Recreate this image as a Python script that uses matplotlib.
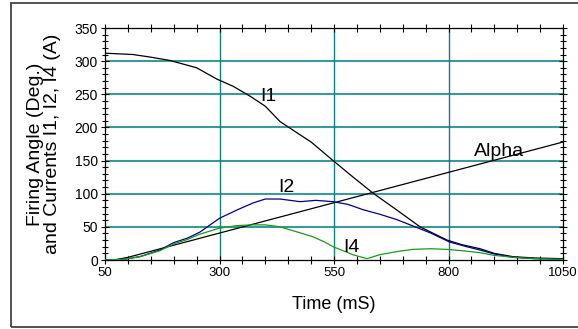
import matplotlib.pyplot as plt
from matplotlib.patches import Rectangle
from matplotlib.ticker import MultipleLocator

plt.rcParams['font.family'] = ['Liberation Sans', 'DejaVu Sans']

# time axis values (mS)
t_i1 = [50, 111, 150, 192, 250, 294, 330, 367, 400, 432, 469, 500, 548, 590, 635,
        690, 738, 797, 830, 869, 900, 941, 990, 1050]
i1 = [312, 310, 306, 301, 290, 273, 262, 247, 232, 209, 192, 178, 150, 126, 101,
      74, 50, 30, 23, 17, 10, 5, 3, 2]

t_alpha = [50, 70, 100, 1050]
alpha = [0, 0, 4, 178]

t_i2 = [50, 90, 126, 170, 199, 230, 257, 300, 340, 373, 400, 432, 476, 510, 548,
        580, 613, 650, 687, 720, 760, 803, 840, 869, 900, 941, 990, 1050]
i2 = [0, 1, 5, 15, 26, 33, 42, 63, 76, 86, 92, 92, 88, 90, 88,
      84, 76, 69, 61, 52, 41, 27, 20, 15, 9, 4, 2, 1]

t_i4 = [50, 90, 126, 170, 199, 230, 257, 300, 340, 373, 400, 432, 476, 504, 530,
        548, 570, 591, 622, 650, 690, 722, 760, 797, 830, 869, 900, 941, 990, 1050]
i4 = [0, 1, 5, 14, 24, 31, 39, 48, 52, 53, 53, 50, 41, 35, 27,
      20, 14, 8, 2, 8, 13, 16, 17, 16, 14, 11, 7, 4, 2, 1]

fig = plt.figure(figsize=(5.78, 3.29), dpi=100)
ax = fig.add_axes([105 / 578, 1 - 260 / 329, (563 - 105) / 578, (260 - 28) / 329])

# outer frame
fig.patches.append(Rectangle((11 / 578, 2 / 329), 1.0, 324 / 329, transform=fig.transFigure,
                             fill=False, edgecolor='#333333', linewidth=1.2))

for v in range(50, 350, 50):
    ax.axhline(v, color='#3a9a9a', linewidth=1.5, zorder=1)
for t in [300, 550, 800]:
    ax.axvline(t, color='#108080', linewidth=1.0, zorder=1)

ax.plot(t_i1, i1, color='black', linewidth=0.9, zorder=3)
ax.plot(t_alpha, alpha, color='black', linewidth=0.9, zorder=3)
ax.plot(t_i2, i2, color='#00008b', linewidth=0.9, zorder=3)
ax.plot(t_i4, i4, color='#1a9a1a', linewidth=0.9, zorder=3)

ax.text(406, 247, 'I1', fontsize=14, ha='center', va='center')
ax.text(447, 110, 'I2', fontsize=14, ha='center', va='center')
ax.text(589, 19, 'I4', fontsize=14, ha='center', va='center')
ax.text(910, 163, 'Alpha', fontsize=14, ha='center', va='center')

ax.set_xlim(50, 1050)
ax.set_ylim(0, 350)
ax.set_xticks([50, 300, 550, 800, 1050])
ax.xaxis.set_minor_locator(MultipleLocator(50))
ax.yaxis.set_major_locator(MultipleLocator(50))
ax.yaxis.set_minor_locator(MultipleLocator(10))
ax.tick_params(axis='both', which='both', direction='inout', top=True, right=True,
               pad=2, width=0.8)
ax.tick_params(axis='x', labelsize=9.5)
ax.tick_params(axis='y', labelsize=10)
ax.tick_params(axis='x', which='major', length=6)
ax.tick_params(axis='x', which='minor', length=6)
ax.tick_params(axis='y', which='major', length=6)
ax.tick_params(axis='y', which='minor', length=4)
for s in ax.spines.values():
    s.set_linewidth(0.9)

ax.set_xlabel('Time (mS)', fontsize=13, labelpad=12)
ax.set_ylabel('Firing Angle (Deg.)\nand Currents I1, I2, I4 (A)', fontsize=14,
              labelpad=10, linespacing=1.0)

fig.savefig('out.png', dpi=100)
